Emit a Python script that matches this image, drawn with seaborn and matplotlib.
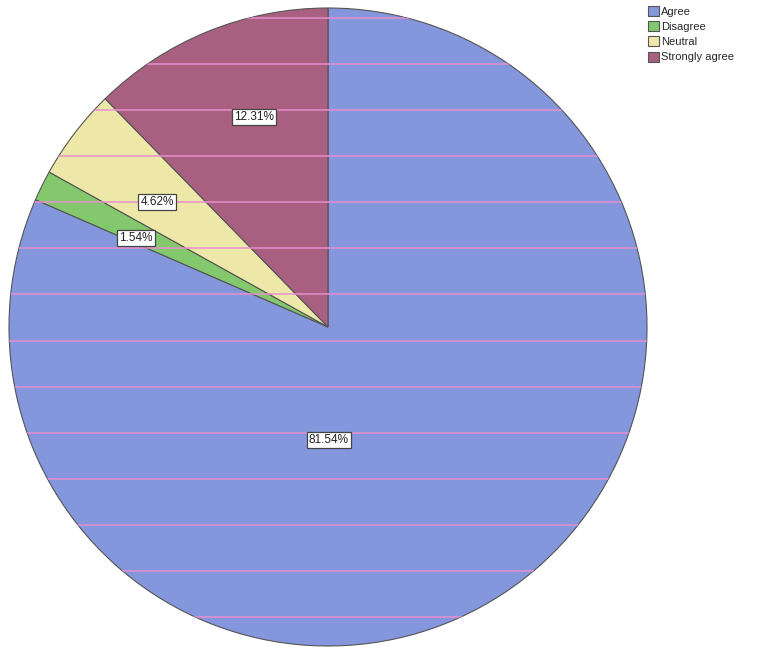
import numpy as np
import matplotlib
matplotlib.use("Agg")
import matplotlib.pyplot as plt
import seaborn as sns

# Data
responses = ["Agree", "Disagree", "Neutral", "Strongly agree"]
percents = [81.54, 1.54, 4.62, 12.31]

sns.set_theme(style="white")
plt.rcParams['font.family'] = ['Liberation Sans', 'DejaVu Sans']

colors = sns.color_palette(["#8496dc", "#84c86e", "#ede8a8", "#a85f80"])

fig = plt.figure(figsize=(7.69, 6.49), dpi=100)
ax = fig.add_axes([9 / 769, 3 / 649, 638 / 769, 638 / 649])

wedges, _ = ax.pie(percents, colors=colors, startangle=90, counterclock=False,
                   radius=1, wedgeprops=dict(edgecolor="#555555", linewidth=0.8))
ax.set_xlim(-1, 1)
ax.set_ylim(-1, 1)
ax.set_aspect("equal")

# pink scan lines across the pie
circle = plt.Circle((0, 0), 1, transform=ax.transData)
for y in np.arange(0.969, -1, -0.1445):
    ln = ax.axhline(y, color="#e88fcf", lw=1.2, alpha=0.9)
    ln.set_clip_path(circle)

# percentage labels (positions in axes data units)
label_pos = [(0.003, -0.354), (-0.602, 0.279), (-0.536, 0.392), (-0.232, 0.658)]
for (x, y), p in zip(label_pos, percents):
    ax.text(x, y, f"{p:.2f}%", ha="center", va="center", fontsize=8.5, color="#222222",
            bbox=dict(boxstyle="square,pad=0.2", fc="white", ec="#444444", lw=0.9))

fig.legend(wedges, responses, loc="upper left", bbox_to_anchor=(648 / 769, 1 - 6 / 649),
           frameon=False, fontsize=8, handlelength=1.0, handleheight=1.0,
           handletextpad=0.2, labelspacing=0.4, borderaxespad=0, borderpad=0)

fig.savefig("out.png", dpi=100)
